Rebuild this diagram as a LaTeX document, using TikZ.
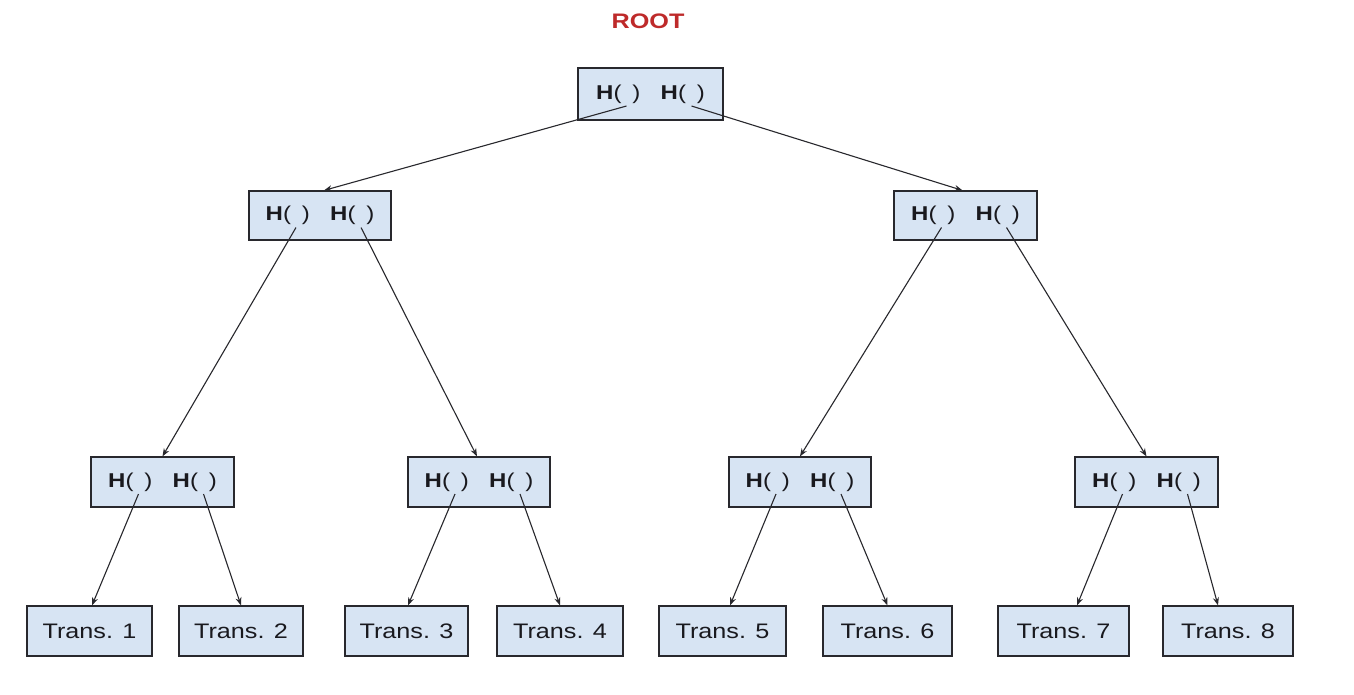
\documentclass[tikz,border=0pt]{standalone}
\usepackage{fontspec}
\setmainfont{Liberation Sans}
\usetikzlibrary{arrows.meta}
\definecolor{boxfill}{RGB}{215,228,243}
\definecolor{boxline}{RGB}{40,40,45}
\definecolor{rootred}{RGB}{190,42,42}
\definecolor{txt}{RGB}{25,25,30}
\newcommand{\hpair}{\scalebox{1.2}[1]{\textbf{H}(\hspace{0.45em})\hspace{17pt}\textbf{H}(\hspace{0.45em})}}
\newcommand{\tr}[1]{\scalebox{1.2}[1]{Trans. #1}}
\begin{document}
\begin{tikzpicture}[x=1pt,y=-1pt,
  hbox/.style={draw=boxline,fill=boxfill,line width=1.2pt,inner sep=0pt,text=txt,font=\fontsize{20}{22}\selectfont},
  leafbox/.style={draw=boxline,fill=boxfill,line width=1.2pt,inner sep=0pt,minimum height=50pt,text=txt,font=\fontsize{21}{24}\selectfont},
  arr/.style={draw=boxline,line width=1.1pt,-{Stealth[length=8pt,width=6pt]}}]
\useasboundingbox[fill=white] (0,0) rectangle (1354,694);
\node[text=rootred,font=\bfseries\fontsize{21}{24}\selectfont] (roottxt) at (648,21) {\scalebox{1.2}[1]{ROOT}};
% root
\node[hbox,minimum width=145pt,minimum height=52pt] (R) at (650.5,94) {\hpair};
% level 1
\node[hbox,minimum width=142pt,minimum height=49pt] (A) at (320,215.5) {\hpair};
\node[hbox,minimum width=143pt,minimum height=49pt] (B) at (965.5,215.5) {\hpair};
% level 2
\node[hbox,minimum width=143pt,minimum height=50pt] (A1) at (162.5,482) {\hpair};
\node[hbox,minimum width=142pt,minimum height=50pt] (A2) at (479,482) {\hpair};
\node[hbox,minimum width=142pt,minimum height=50pt] (B1) at (800,482) {\hpair};
\node[hbox,minimum width=143pt,minimum height=50pt] (B2) at (1146.5,482) {\hpair};
% leaves
\node[leafbox,minimum width=125pt] (T1) at (89.5,631) {\tr{1}};
\node[leafbox,minimum width=124pt] (T2) at (241,631) {\tr{2}};
\node[leafbox,minimum width=123pt] (T3) at (406.5,631) {\tr{3}};
\node[leafbox,minimum width=126pt] (T4) at (560,631) {\tr{4}};
\node[leafbox,minimum width=127pt] (T5) at (722.5,631) {\tr{5}};
\node[leafbox,minimum width=129pt] (T6) at (887.5,631) {\tr{6}};
\node[leafbox,minimum width=131pt] (T7) at (1063.5,631) {\tr{7}};
\node[leafbox,minimum width=130pt] (T8) at (1228,631) {\tr{8}};
% start points inside the parentheses
\foreach \n in {R,A,B,A1,A2,B1,B2}{
  \coordinate (\n l) at ([shift={(-24,12)}]\n.center);
  \coordinate (\n r) at ([shift={(41,12)}]\n.center);
}
% connectors
\draw[arr] (Rl) -- ([xshift=4pt]A.north);
\draw[arr] (Rr) -- ([xshift=-3pt]B.north);
\draw[arr] (Al) -- (A1.north);
\draw[arr] (Ar) -- ([xshift=-2pt]A2.north);
\draw[arr] (Bl) -- (B1.north);
\draw[arr] (Br) -- (B2.north);
\draw[arr] (A1l) -- ([xshift=2.5pt]T1.north);
\draw[arr] (A1r) -- (T2.north);
\draw[arr] (A2l) -- ([xshift=1.5pt]T3.north);
\draw[arr] (A2r) -- (T4.north);
\draw[arr] (B1l) -- ([xshift=7.5pt]T5.north);
\draw[arr] (B1r) -- (T6.north);
\draw[arr] (B2l) -- ([xshift=13.5pt]T7.north);
\draw[arr] (B2r) -- ([xshift=-10pt]T8.north);
\end{tikzpicture}
\end{document}
